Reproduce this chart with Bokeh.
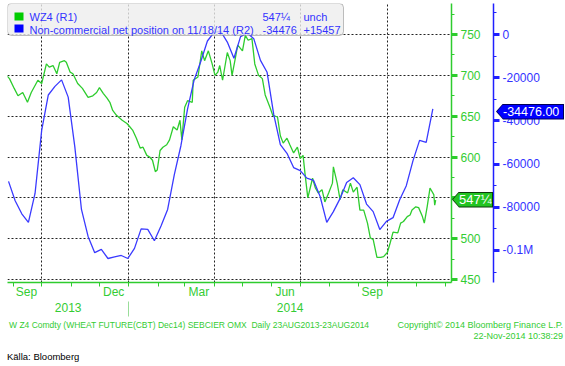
import pandas as pd
from bokeh.plotting import figure
from bokeh.layouts import column
from bokeh.models import (LinearAxis, DatetimeAxis, Range1d, FixedTicker, SingleIntervalTicker,
                          Label, BoxAnnotation, ColumnDataSource, BasicTickFormatter, Div)
from bokeh.embed import file_html
from bokeh.resources import INLINE

# ---------------- data ----------------
green_dates = ["2013-08-23", "2013-08-28", "2013-09-02", "2013-09-06", "2013-09-11", "2013-09-16", "2013-09-20",
               "2013-09-27", "2013-10-01", "2013-10-06", "2013-10-09", "2013-10-13", "2013-10-17", "2013-10-20",
               "2013-10-25", "2013-10-27", "2013-10-31", "2013-11-03", "2013-11-08", "2013-11-13", "2013-11-19",
               "2013-11-24", "2013-11-28", "2013-12-01", "2013-12-05", "2013-12-09", "2013-12-12", "2013-12-15",
               "2013-12-19", "2013-12-25", "2013-12-30", "2014-01-02", "2014-01-05", "2014-01-09", "2014-01-13",
               "2014-01-16", "2014-01-20", "2014-01-23", "2014-01-26", "2014-01-29", "2014-01-31", "2014-02-03",
               "2014-02-06", "2014-02-10", "2014-02-13", "2014-02-17", "2014-02-21", "2014-02-24", "2014-02-26",
               "2014-03-01", "2014-03-04", "2014-03-09", "2014-03-10", "2014-03-15", "2014-03-19", "2014-03-22",
               "2014-03-26", "2014-03-30", "2014-04-02", "2014-04-05", "2014-04-07", "2014-04-10", "2014-04-15",
               "2014-04-18", "2014-04-20", "2014-04-23", "2014-04-26", "2014-05-01", "2014-05-04", "2014-05-07",
               "2014-05-11", "2014-05-14", "2014-05-18", "2014-05-22", "2014-05-25", "2014-05-30", "2014-06-02",
               "2014-06-07", "2014-06-10", "2014-06-13", "2014-06-17", "2014-06-20", "2014-06-24", "2014-06-28",
               "2014-07-01", "2014-07-04", "2014-07-06", "2014-07-09", "2014-07-14", "2014-07-17", "2014-07-20",
               "2014-07-24", "2014-07-27", "2014-07-31", "2014-08-04", "2014-08-05", "2014-08-09", "2014-08-12",
               "2014-08-15", "2014-08-20", "2014-08-23", "2014-08-26", "2014-08-30", "2014-09-02", "2014-09-06",
               "2014-09-10", "2014-09-13", "2014-09-16", "2014-09-20", "2014-09-24", "2014-09-27", "2014-10-01",
               "2014-10-04", "2014-10-07", "2014-10-12", "2014-10-15", "2014-10-18", "2014-10-22", "2014-10-25",
               "2014-10-27", "2014-10-31", "2014-11-03", "2014-11-07", "2014-11-09", "2014-11-12", "2014-11-15",
               "2014-11-19", "2014-11-20", "2014-11-21"]
green_values = [702, 696, 684, 675, 679, 667, 679,
                694, 690, 714, 710, 712, 702, 716,
                718, 716, 704, 702, 690, 684, 673,
                675, 679, 685, 678, 672, 667, 657,
                651, 645, 641, 637, 633, 623, 611,
                612, 602, 600, 596, 582, 584, 608,
                612, 615, 621, 637, 633, 645, 621,
                661, 669, 667, 694, 698, 730, 718,
                730, 714, 700, 704, 712, 694, 728,
                718, 700, 718, 737, 730, 749, 743,
                745, 714, 700, 696, 676, 661, 651,
                649, 626, 617, 623, 615, 605, 612,
                598, 602, 580, 550, 574, 562, 556,
                560, 545, 556, 568, 588, 568, 548,
                560, 556, 568, 557, 563, 535, 535,
                519, 501, 499, 477, 477, 478, 483,
                495, 508, 507, 519, 521, 527, 529,
                535, 539, 538, 527, 519, 539, 562,
                554, 541, 547.25]

blue_first_date = "2013-08-27"   # weekly (Tuesday) CFTC reports
blue_values = [-68000, -77000, -83000, -87000, -73600, -44400, -28000, -24000, -21000, -29000,
               -52000, -81000, -93500, -101000, -99500, -103700, -103000, -102300, -103700, -99000,
               -90000, -90200, -95500, -88700, -81000, -65000, -51500, -34500, -21000, -12500,
               -3000, 1000, 1500, -3500, -11000, -1000, 700, -2000, -12000, -17500,
               -37000, -51000, -55000, -61600, -63000, -66500, -67500, -75000, -87000, -82000,
               -76000, -68500, -66300, -69500, -78500, -82000, -90300, -86500, -84800, -76500,
               -70000, -58500, -49000, -49933, -34476]
blue_dates = pd.date_range(blue_first_date, periods=len(blue_values), freq="7D")

month_labels = ["Sep", "Dec", "Mar", "Jun", "Sep"]
month_label_dates = ["2013-09-15", "2013-12-16", "2014-03-16", "2014-06-15", "2014-09-15"]
month_start_dates = [str(d.date()) for d in pd.date_range("2013-09-01", "2014-12-01", freq="MS")]
grid_dates = ["2013-10-01", "2014-01-01", "2014-04-01", "2014-07-01", "2014-10-01"]
year_labels = ["2013", "2014"]
green_ticks = [450, 500, 550, 600, 650, 700, 750]
blue_ticks = [-100000, -80000, -60000, -40000, -20000, 0]
blue_tick_labels = ["-0.1M", "-80000", "-60000", "-40000", "-20000", "0"]

legend_rows = [("WZ4 (R1)", "547\u00bc", "unch"),
               ("Non-commercial net position on 11/18/14 (R2)", "-34476", "+15457")]
last_green_label = "547\u00bc"
last_blue_label = "-34476.00"

footer_left = "W Z4 Comdty (WHEAT FUTURE(CBT) Dec14) SEBCIER OMX&nbsp; Daily 23AUG2013-23AUG2014"
footer_right = ["Copyright\u00a9 2014 Bloomberg Finance L.P.", "22-Nov-2014 10:38:29"]
source_note = "K\u00e4lla: Bloomberg"

# ---------------- styling / geometry ----------------
FONT = "Liberation Sans"
GREEN = "#2ecc2e"
GREEN_TXT = "#33cc33"
BLUE = "#3a3aff"
BLUE_TXT = "#3333ff"

W, H_PLOT, H_FOOT = 565, 318, 48
FR_LEFT, FR_TOP, FR_RIGHT, FR_BOTTOM = 7, 3, 451, 282
G_LO, G_HI = 446.3, 788.0
B_LO, B_HI = -114815, 14352


def ms(d):
    return pd.Timestamp(d).value // 10**6


x_start = ms("2013-08-25 22:00")
x_end = ms("2014-12-07 17:00")

p = figure(width=W, height=H_PLOT, x_axis_type="datetime", y_axis_location="right",
           x_range=Range1d(x_start, x_end), y_range=Range1d(G_LO, G_HI),
           toolbar_location=None, output_backend="svg",
           min_border_left=FR_LEFT, min_border_top=FR_TOP, min_border_right=W - FR_RIGHT,
           min_border_bottom=H_PLOT - FR_BOTTOM)
p.outline_line_color = None
p.background_fill_color = "white"
p.border_fill_color = "white"
p.extra_y_ranges = {"blue": Range1d(B_LO, B_HI)}

# grids
p.ygrid.ticker = FixedTicker(ticks=green_ticks)
p.xgrid.ticker = FixedTicker(ticks=[ms(d) for d in grid_dates])
for g in (p.xgrid[0], p.ygrid[0]):
    g.grid_line_color = "#222222"
    g.grid_line_dash = "2 2"
    g.grid_line_width = 1

# green (price) axis
ga = p.yaxis[0]
ga.ticker = SingleIntervalTicker(interval=50, num_minor_ticks=2)
ga.major_label_overrides = {550: ""}
ga.axis_line_color = GREEN
ga.axis_line_width = 1.5
ga.major_tick_line_color = GREEN
ga.major_tick_line_width = 3
ga.major_tick_out = 6
ga.major_tick_in = 0
ga.minor_tick_line_color = GREEN
ga.minor_tick_out = 3
ga.minor_tick_in = 0
ga.major_label_text_color = GREEN_TXT
ga.major_label_text_font = FONT
ga.major_label_text_font_size = "12px"
ga.major_label_standoff = 3
ga.axis_label = " "
ga.axis_label_text_font_size = "7px"
ga.axis_label_standoff = 0

# blue (positions) axis
ba = LinearAxis(y_range_name="blue",
                ticker=SingleIntervalTicker(interval=20000, num_minor_ticks=2),
                formatter=BasicTickFormatter(use_scientific=False),
                major_label_overrides={t: l for t, l in zip(blue_ticks, blue_tick_labels)})
ba.axis_line_color = "#2020ff"
ba.axis_line_width = 1.5
ba.major_tick_line_color = "#2020ff"
ba.major_tick_line_width = 3
ba.major_tick_out = 6
ba.major_tick_in = 0
ba.minor_tick_line_color = "#2020ff"
ba.minor_tick_out = 3
ba.minor_tick_in = 0
ba.major_label_text_color = BLUE_TXT
ba.major_label_text_font = FONT
ba.major_label_text_font_size = "12px"
ba.major_label_standoff = 3
p.add_layout(ba, "right")

# month axis
xa = p.xaxis[0]
xa.ticker = FixedTicker(ticks=[ms(d) for d in month_label_dates],
                        minor_ticks=[ms(d) for d in month_start_dates])
xa.major_label_overrides = {ms(d): l for d, l in zip(month_label_dates, month_labels)}
xa.axis_line_color = GREEN
xa.axis_line_width = 1.5
xa.major_tick_line_color = None
xa.major_tick_out = 0
xa.major_tick_in = 0
xa.minor_tick_line_color = GREEN
xa.minor_tick_out = 4
xa.minor_tick_in = 0
xa.major_label_text_color = GREEN_TXT
xa.major_label_text_font = FONT
xa.major_label_text_font_size = "12px"
xa.major_label_standoff = -2

# year axis (with a separator tick at the turn of the year)
jan1 = ms("2014-01-01")
year_pos = [(x_start + jan1) // 2, (jan1 + x_end) // 2]
ya = DatetimeAxis(ticker=FixedTicker(ticks=year_pos, minor_ticks=[jan1]),
                  major_label_overrides={t: l for t, l in zip(year_pos, year_labels)})
ya.axis_line_color = None
ya.major_tick_line_color = None
ya.major_tick_out = 0
ya.major_tick_in = 0
ya.minor_tick_line_color = "#99dd99"
ya.minor_tick_out = 15
ya.minor_tick_in = 0
ya.major_label_text_color = GREEN_TXT
ya.major_label_text_font = FONT
ya.major_label_text_font_size = "12px"
ya.major_label_standoff = -14
p.add_layout(ya, "below")

# series
gsrc = ColumnDataSource(dict(x=pd.to_datetime(green_dates), y=green_values))
bsrc = ColumnDataSource(dict(x=blue_dates, y=blue_values))
p.line("x", "y", source=gsrc, line_color=GREEN, line_width=1.3)
p.line("x", "y", source=bsrc, line_color=BLUE, line_width=1.3, y_range_name="blue")


def sbox(l, r, b, t, **kw):
    return BoxAnnotation(left=l, right=r, bottom=b, top=t,
                         left_units="screen", right_units="screen",
                         bottom_units="screen", top_units="screen", **kw)


# legend box (semi transparent); screen units are relative to the frame
fh = FR_BOTTOM - FR_TOP
p.add_layout(sbox(0, 336, fh - 32, fh, fill_color="#eeeeee", fill_alpha=0.8,
                  line_color="#333333", line_width=1, border_radius=4))
p.add_layout(sbox(7, 16, fh - 17, fh - 9, fill_color="#00cc00", fill_alpha=1, line_color=None))
p.add_layout(sbox(7, 16, fh - 29, fh - 21, fill_color="#0000ff", fill_alpha=1, line_color=None))
for (name, val, chg), sy in zip(legend_rows, [fh - 13, fh - 26]):
    p.add_layout(Label(x=22, y=sy, x_units="screen", y_units="screen", text=name,
                       text_font=FONT, text_font_size="11px", text_color=BLUE_TXT,
                       text_baseline="middle", text_align="left"))
    p.add_layout(Label(x=255, y=sy, x_units="screen", y_units="screen", text=val,
                       text_font=FONT, text_font_size="11px", text_color=BLUE_TXT,
                       text_baseline="middle", text_align="left"))
    p.add_layout(Label(x=296, y=sy, x_units="screen", y_units="screen", text=chg,
                       text_font=FONT, text_font_size="11px", text_color=BLUE_TXT,
                       text_baseline="middle", text_align="left"))


# ---------------- footer strip + last-value badges (HTML) ----------------
def page_y(v, lo, hi):
    return FR_TOP + (hi - v) / (hi - lo) * fh


def badge(left, width, center_y, text, fill, edge, size):
    top = center_y - 8 - H_PLOT
    shape_o = "polygon(7px 0, 100% 0, 100% 100%, 7px 100%, 0 50%)"
    shape_i = "polygon(6px 0, 100% 0, 100% 100%, 6px 100%, 0 50%)"
    return (f'<div style="position:absolute;left:{left}px;top:{top:.1f}px;width:{width}px;height:16px;'
            f'background:{edge};clip-path:{shape_o};">'
            f'<div style="position:absolute;left:1px;top:1px;right:1px;bottom:1px;background:{fill};'
            f'clip-path:{shape_i};color:white;font-family:\'{FONT}\';font-size:{size};line-height:14px;'
            f'padding-left:6px;white-space:nowrap;">{text}</div></div>')


def txt(style, text, color=GREEN_TXT, size="9px"):
    return (f'<span style="position:absolute;{style};font-family:\'{FONT}\';font-size:{size};'
            f'color:{color};white-space:nowrap;line-height:11px;">{text}</span>')


html = (f'<div style="position:relative;left:-5px;top:-3px;width:{W}px;height:{H_FOOT}px;">'
        + badge(FR_RIGHT + 1, 41, page_y(green_values[-1], G_LO, G_HI) - 2, last_green_label,
                "#22c422", "#0b3b0b", "13px")
        + badge(FR_RIGHT + 45, 68, page_y(blue_values[-1], B_LO, B_HI) + 1, last_blue_label,
                "#0000ff", "#00005a", "12.5px")
        + txt("left:9px;top:0px", footer_left, size="8.5px")
        + txt("right:2px;top:0px", footer_right[0])
        + txt("right:2px;top:11px", footer_right[1])
        + txt("left:7px;top:31px", source_note, color="black", size="9.5px")
        + '</div>')
foot = Div(text=html, width=W, height=H_FOOT, styles={"overflow": "visible"})

layout = column(p, foot, spacing=0)
open("out.html", "w").write(file_html(layout, INLINE))
